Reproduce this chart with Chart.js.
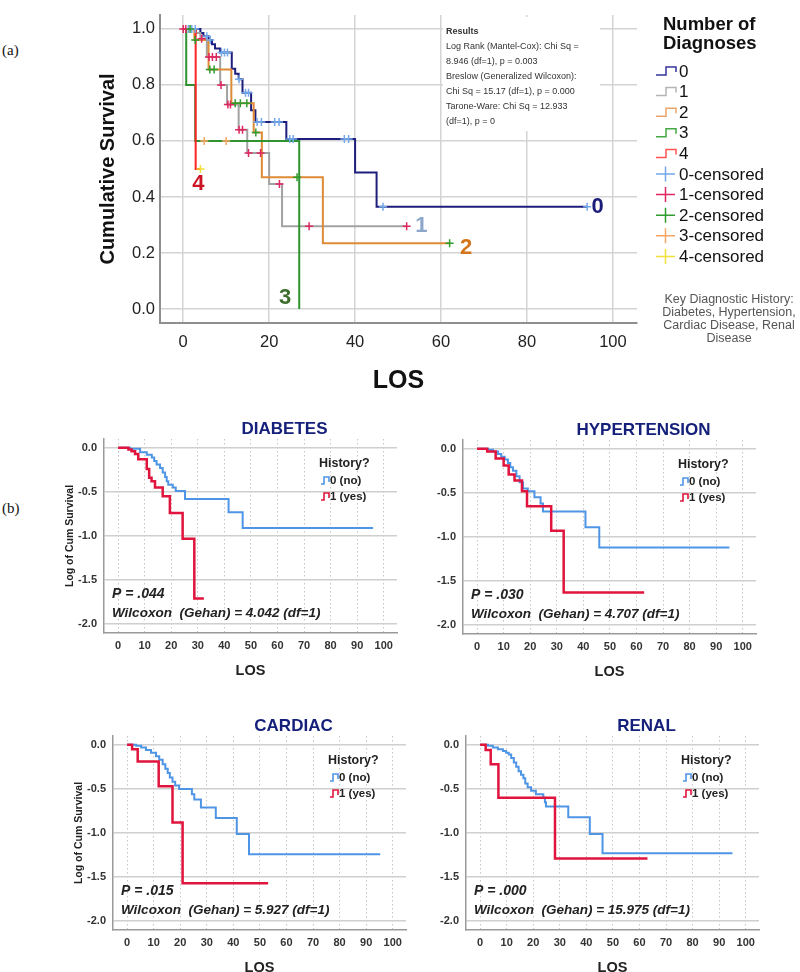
<!DOCTYPE html>
<html>
<head>
<meta charset="utf-8">
<script src="https://cdn.jsdelivr.net/npm/chart.js@4.4.1/dist/chart.umd.min.js"></script>
<style>
body { margin: 0; background: #fff; }
#page { position: relative; width: 800px; height: 972px; overflow: hidden; background: #fff; }
canvas { position: absolute; }
.tag { position: absolute; font-family: "Liberation Serif", serif; font-size: 15px; color: #111; }
</style>
</head>
<body>
<div id="page">
  <div class="tag" style="left:2px;top:42px">(a)</div>
  <div class="tag" style="left:2px;top:500px">(b)</div>
  <canvas id="km" width="800" height="400" style="left:0;top:0"></canvas>
  <canvas id="diab" width="380" height="285" style="left:30px;top:400px"></canvas>
  <canvas id="hyper" width="380" height="285" style="left:389px;top:401px"></canvas>
  <canvas id="card" width="380" height="285" style="left:39px;top:697px"></canvas>
  <canvas id="renal" width="380" height="285" style="left:392px;top:697px"></canvas>
</div>
<script>
// ---- top chart: Kaplan-Meier by number of diagnoses ----
const groupNames = ['0', '1', '2', '3', '4'];
const xTicksTop = [0, 20, 40, 60, 80, 100];
const yTicksTop = [0, 0.2, 0.4, 0.6, 0.8, 1.0];

const g0Time = [0, 4, 4.7, 5.9, 6.7, 7.4, 8.6, 11.3, 12.1, 12.9, 13.8, 15.8, 16.8, 24, 40, 45, 94];
const g0Surv = [1, 0.985, 0.974, 0.96, 0.945, 0.93, 0.916, 0.858, 0.84, 0.82, 0.772, 0.71, 0.668, 0.607, 0.487, 0.365, 0.365];
const g1Time = [0, 3, 4, 5.5, 8.6, 10.2, 12.9, 14.9, 20, 23, 52];
const g1Surv = [1, 0.985, 0.965, 0.9, 0.8, 0.73, 0.64, 0.557, 0.446, 0.295, 0.295];
const g2Time = [0, 2.6, 5.9, 11.2, 16.4, 18.3, 32.5, 62];
const g2Surv = [1, 0.96, 0.855, 0.735, 0.63, 0.47, 0.235, 0.235];
const g3Time = [0, 0.7, 2.8, 27];
const g3Surv = [1, 0.8, 0.6, 0];
const g4Time = [0, 2.9, 4];
const g4Surv = [1, 0.5, 0.5];

// censored cases
const c0Time = [1.2, 2, 2.8, 5.5, 6.3, 8.9, 9.6, 10.3, 13, 14.5, 15.2, 17.2, 18.2, 21.3, 22.3, 24.8, 25.6, 37.5, 38.5, 46.5, 94];
const c0Surv = [1, 1, 1, 0.974, 0.96, 0.916, 0.916, 0.916, 0.82, 0.772, 0.772, 0.668, 0.668, 0.668, 0.668, 0.607, 0.607, 0.607, 0.607, 0.365, 0.365];
const c1Time = [0, 0.6, 4.3, 6, 6.8, 7.7, 8.8, 10.4, 11, 13, 13.8, 15.2, 18, 22.4, 29.3, 52];
const c1Surv = [1, 1, 0.965, 0.9, 0.9, 0.9, 0.8, 0.73, 0.73, 0.64, 0.64, 0.557, 0.557, 0.446, 0.295, 0.295];
const c2Time = [1.6, 2.8, 6.2, 7.2, 12.1, 13.3, 14.8, 16.9, 26.5, 62];
const c2Surv = [1, 0.96, 0.855, 0.855, 0.735, 0.735, 0.735, 0.63, 0.47, 0.235];
const c3Time = [4.9, 10];
const c3Surv = [0.6, 0.6];
const c4Time = [4];
const c4Surv = [0.5];

const resultLines = [
  'Results',
  'Log Rank (Mantel-Cox): Chi Sq =',
  '8.946 (df=1), p = 0.003',
  'Breslow (Generalized Wilcoxon):',
  'Chi Sq = 15.17 (df=1), p = 0.000',
  'Tarone-Ware: Chi Sq = 12.933',
  '(df=1), p = 0'
];
const keyLines = ['Key Diagnostic History:', 'Diabetes, Hypertension,', 'Cardiac Disease, Renal', 'Disease'];

// ---- bottom panels: log cumulative survival, history yes/no ----
const xTicksPanel = [0, 10, 20, 30, 40, 50, 60, 70, 80, 90, 100];
const yTicksPanel = [0, -0.5, -1, -1.5, -2];
const historyNames = ['0 (no)', '1 (yes)'];

const diabNoTime = [0, 4.5, 8.3, 10.8, 12.7, 13.6, 14.5, 15.8, 16.8, 17.7, 18.3, 18.9, 20.6, 21.7, 25.2, 41.6, 46.9, 96];
const diabNoLog = [0, -0.01, -0.05, -0.08, -0.11, -0.15, -0.19, -0.23, -0.28, -0.33, -0.38, -0.42, -0.45, -0.49, -0.58, -0.73, -0.91, -0.91];
const diabYesTime = [0, 3.9, 5.1, 6.4, 7.6, 10.8, 11.7, 12.6, 13.9, 16.8, 19.5, 24.3, 28.7, 32.3];
const diabYesLog = [0, -0.02, -0.04, -0.07, -0.13, -0.24, -0.34, -0.38, -0.45, -0.55, -0.74, -1.03, -1.71, -1.71];

const hypNoTime = [0, 4.1, 6, 7.9, 9.1, 10.4, 11.6, 12.5, 13.5, 14.8, 16, 17.3, 19.1, 21.6, 23.9, 24.8, 40.8, 46, 95];
const hypNoLog = [0, -0.01, -0.03, -0.06, -0.09, -0.12, -0.16, -0.21, -0.25, -0.31, -0.38, -0.45, -0.48, -0.55, -0.62, -0.71, -0.89, -1.12, -1.12];
const hypYesTime = [0, 3.8, 7, 10, 11.9, 14.1, 16.9, 18.8, 27.9, 32.6, 62.9];
const hypYesLog = [0, -0.03, -0.11, -0.19, -0.29, -0.36, -0.48, -0.65, -0.93, -1.63, -1.63];

const cardNoTime = [0, 3.4, 5.3, 7.1, 9, 10.9, 12.1, 13.4, 14.4, 15.3, 16.1, 17.1, 18.1, 19.6, 24.4, 25.3, 27.8, 33.4, 41.3, 45.9, 95.3];
const cardNoLog = [0, -0.01, -0.03, -0.06, -0.09, -0.13, -0.17, -0.22, -0.27, -0.32, -0.37, -0.42, -0.46, -0.5, -0.56, -0.62, -0.71, -0.83, -1.01, -1.24, -1.24];
const cardYesTime = [0, 1.9, 4, 11.9, 17.1, 20.9, 53.1];
const cardYesLog = [0, -0.05, -0.19, -0.47, -0.88, -1.57, -1.57];

const renNoTime = [0, 3, 4.8, 6.7, 8.6, 9.8, 10.8, 11.7, 12.7, 13.6, 14.5, 15.4, 16.3, 17, 17.9, 19.2, 21, 23.8, 24.4, 24.8, 33.2, 41.3, 46.1, 95];
const renNoLog = [0, -0.01, -0.03, -0.05, -0.07, -0.09, -0.11, -0.15, -0.2, -0.25, -0.3, -0.34, -0.38, -0.44, -0.48, -0.52, -0.56, -0.6, -0.65, -0.7, -0.82, -1.01, -1.23, -1.23];
const renYesTime = [0, 2.1, 4, 6.9, 28.2, 63];
const renYesLog = [0, -0.06, -0.22, -0.6, -1.29, -1.29];

Chart.defaults.font.family = '"Liberation Sans", Arial, sans-serif';
const FONT = '"Liberation Sans", Arial, sans-serif';

function pts(t, s){
    return t.map((v, i) => ({x: v, y: s[i]}));
}

// styles for the top chart
const lineColors = ['#1e1e7e', '#a2a2a2', '#df8a35', '#2f932f', '#ff2424'];
const censColors = ['#74a8ea', '#e02860', '#2f9c2f', '#f5a664', '#f0e038'];
const legendLineColors = ['#34349a', '#b4b4b4', '#eaa468', '#44a844', '#ff5454'];
const labelColors = ['#1c1c7a', '#8ca7c9', '#d4751c', '#3d6e2e', '#cc1424'];
const labelPos = [[95, 0.363], [54, 0.296], [64.4, 0.218], [22.3, 0.038], [2.1, 0.445]];

const groupTimes = [g0Time, g1Time, g2Time, g3Time, g4Time];
const groupSurv = [g0Surv, g1Surv, g2Surv, g3Surv, g4Surv];
const censTimes = [c0Time, c1Time, c2Time, c3Time, c4Time];
const censSurv = [c0Surv, c1Surv, c2Surv, c3Surv, c4Surv];

let kmSets = [];
for(let i = 0; i < groupNames.length; i++){
    kmSets.push({
        label: groupNames[i],
        data: pts(groupTimes[i], groupSurv[i]),
        borderColor: lineColors[i],
        borderWidth: 2,
        stepped: true,
        pointRadius: 0,
        fill: false,
        order: 10 - i
    });
}
for(let i = 0; i < groupNames.length; i++){
    kmSets.push({
        label: groupNames[i] + '-censored',
        data: pts(censTimes[i], censSurv[i]),
        showLine: false,
        pointStyle: 'cross',
        pointRadius: 4,
        pointBorderWidth: 1.5,
        pointBorderColor: censColors[i],
        borderColor: censColors[i],
        order: 5 - i
    });
}

const kmDecor = {
    id: 'kmDecor',
    beforeDatasetsDraw(chart){
        const ctx = chart.ctx;
        ctx.save();
        ctx.fillStyle = '#fff';
        ctx.fillRect(443, 17, 157, 114);
        ctx.fillStyle = '#333';
        ctx.textBaseline = 'middle';
        ctx.textAlign = 'left';
        for(let i = 0; i < resultLines.length; i++){
            ctx.font = (i == 0 ? 'bold ' : '') + '9px ' + FONT;
            ctx.fillText(resultLines[i], 446, 32 + i * 15);
        }
        ctx.restore();
    },
    afterDatasetsDraw(chart){
        const ctx = chart.ctx;
        const xs = chart.scales.x, ys = chart.scales.y;
        ctx.save();
        ctx.textBaseline = 'middle';
        ctx.textAlign = 'left';
        // curve labels
        ctx.font = 'bold 22px ' + FONT;
        for(let i = 0; i < groupNames.length; i++){
            ctx.fillStyle = labelColors[i];
            ctx.fillText(groupNames[i], xs.getPixelForValue(labelPos[i][0]), ys.getPixelForValue(labelPos[i][1]));
        }
        // legend
        ctx.fillStyle = '#111';
        ctx.font = 'bold 18.5px ' + FONT;
        ctx.fillText('Number of', 663, 25);
        ctx.fillText('Diagnoses', 663, 44);
        ctx.font = '17px ' + FONT;
        ctx.lineWidth = 1.5;
        let names = groupNames.concat(groupNames.map(g => g + '-censored'));
        for(let i = 0; i < names.length; i++){
            let y = 71 + i * 20.6;
            ctx.beginPath();
            if(i < 5){
                ctx.strokeStyle = legendLineColors[i];
                ctx.moveTo(656, y + 4);
                ctx.lineTo(666, y + 4);
                ctx.lineTo(666, y - 4);
                ctx.lineTo(676, y - 4);
                ctx.lineTo(676, y + 1);
            }
            else{
                ctx.strokeStyle = censColors[i - 5];
                ctx.moveTo(656, y);
                ctx.lineTo(675, y);
                ctx.moveTo(665.5, y - 7.5);
                ctx.lineTo(665.5, y + 7.5);
            }
            ctx.stroke();
            ctx.fillStyle = '#111';
            ctx.fillText(names[i], 679, y + 1);
        }
        // key note
        ctx.fillStyle = '#555';
        ctx.textAlign = 'center';
        ctx.font = '12.5px ' + FONT;
        for(let i = 0; i < keyLines.length; i++){
            ctx.fillText(keyLines[i], 729, 300 + i * 13);
        }
        ctx.restore();
    }
};

new Chart(document.getElementById('km').getContext('2d'), {
    type: 'line',
    data: { datasets: kmSets },
    options: {
        responsive: false,
        animation: false,
        layout: { padding: { left: 92, top: 4, right: 163, bottom: 0 } },
        plugins: { legend: { display: false }, tooltip: { enabled: false } },
        scales: {
            x: {
                type: 'linear', min: -5.4, max: 105.6,
                afterBuildTicks: s => { s.ticks = xTicksTop.map(v => ({value: v})); },
                afterFit: s => { s.height = 77; },
                grid: { color: '#d4d4d4', lineWidth: 1.5, drawTicks: false },
                border: { color: '#8f8f8f', width: 2 },
                ticks: { font: { size: 16.5 }, color: '#222', padding: 10, maxRotation: 0, autoSkip: false },
                title: { display: true, text: 'LOS', font: { size: 25, weight: 'bold' }, color: '#111', padding: { top: 0, bottom: 4 } }
            },
            y: {
                type: 'linear', min: -0.05, max: 1.05,
                afterBuildTicks: s => { s.ticks = yTicksTop.map(v => ({value: v})); },
                afterFit: s => { s.width = 68; },
                grid: { color: '#d4d4d4', lineWidth: 1.5, drawTicks: false },
                border: { color: '#8f8f8f', width: 2 },
                ticks: { font: { size: 16.5 }, color: '#222', padding: 5, callback: v => Number(v).toFixed(1) },
                title: { display: true, text: 'Cumulative Survival', font: { size: 20, weight: 'bold' }, color: '#111', padding: { top: 4, bottom: 0 } }
            }
        }
    },
    plugins: [kmDecor]
});

// ---- panels ----
const noColor = '#4f95e6';
const yesColor = '#e0143c';

const panelDecor = {
    id: 'panelDecor',
    afterDatasetsDraw(chart, args, opts){
        const ctx = chart.ctx;
        const a = chart.chartArea;
        ctx.save();
        ctx.textBaseline = 'middle';
        ctx.textAlign = 'center';
        ctx.fillStyle = '#15207a';
        ctx.font = 'bold 17px ' + FONT;
        ctx.fillText(opts.title, (a.left + a.right) / 2 + 34, a.top - 10);

        ctx.textAlign = 'left';
        ctx.fillStyle = '#222';
        ctx.font = 'bold 12.5px ' + FONT;
        ctx.fillText('History?', a.left + 215, a.top + 25);
        ctx.font = 'bold 11.5px ' + FONT;
        const cols = [noColor, yesColor];
        for(let i = 0; i < historyNames.length; i++){
            let y = a.top + 42 + i * 16;
            let x = a.left + 217;
            ctx.strokeStyle = cols[i];
            ctx.lineWidth = 1.6;
            ctx.beginPath();
            ctx.moveTo(x, y + 3);
            ctx.lineTo(x + 3, y + 3);
            ctx.lineTo(x + 3, y - 4);
            ctx.lineTo(x + 8, y - 4);
            ctx.lineTo(x + 8, y + 1);
            ctx.stroke();
            ctx.fillText(historyNames[i], x + 9, y);
        }

        ctx.font = 'bold italic 14px ' + FONT;
        ctx.fillText(opts.p, a.left + 8, a.top + 155);
        ctx.font = 'bold italic 13.5px ' + FONT;
        ctx.fillText(opts.w, a.left + 8, a.top + 174);
        ctx.restore();
    }
};

function makePanel(id, title, noT, noY, yesT, yesY, pText, wText, showYTitle){
    let canvas = document.getElementById(id).getContext('2d');
    return new Chart(canvas, {
        type: 'line',
        data: {
            datasets: [
                { label: historyNames[1], data: pts(yesT, yesY), borderColor: yesColor, borderWidth: 2.5, stepped: true, pointRadius: 0, fill: false, order: 1 },
                { label: historyNames[0], data: pts(noT, noY), borderColor: noColor, borderWidth: 2, stepped: true, pointRadius: 0, fill: false, order: 2 }
            ]
        },
        options: {
            responsive: false,
            animation: false,
            layout: { padding: { left: 30, top: 39, right: 13, bottom: 2 } },
            plugins: {
                legend: { display: false },
                tooltip: { enabled: false },
                panelDecor: { title: title, p: pText, w: wText }
            },
            scales: {
                x: {
                    type: 'linear', min: -5.3, max: 105,
                    afterBuildTicks: s => { s.ticks = xTicksPanel.map(v => ({value: v})); },
                    afterFit: s => { s.height = 50; },
                    grid: { color: '#c6c6c6', lineWidth: 1, drawTicks: false },
                    border: { color: '#9a9a9a', width: 1.5, dash: [1.5, 2.5] },
                    ticks: { font: { size: 11, weight: 'bold' }, color: '#333', padding: 6, maxRotation: 0, autoSkip: false },
                    title: { display: true, text: 'LOS', font: { size: 14.5, weight: 'bold' }, color: '#222', padding: { top: 0, bottom: 3 } }
                },
                y: {
                    type: 'linear', min: -2.1, max: 0.1,
                    afterBuildTicks: s => { s.ticks = yTicksPanel.map(v => ({value: v})); },
                    afterFit: s => { s.width = 44; },
                    grid: { color: '#cfcfcf', lineWidth: 1.5, drawTicks: false },
                    border: { color: '#9a9a9a', width: 1.5 },
                    ticks: { font: { size: 11, weight: 'bold' }, color: '#333', padding: 7, callback: v => Number(v).toFixed(1) },
                    title: { display: showYTitle, text: 'Log of Cum Survival', font: { size: 10.5, weight: 'bold' }, color: '#222', padding: { top: 4, bottom: 0 } }
                }
            }
        },
        plugins: [panelDecor]
    });
}

makePanel('diab', 'DIABETES', diabNoTime, diabNoLog, diabYesTime, diabYesLog, 'P = .044', 'Wilcoxon  (Gehan) = 4.042 (df=1)', true);
makePanel('hyper', 'HYPERTENSION', hypNoTime, hypNoLog, hypYesTime, hypYesLog, 'P = .030', 'Wilcoxon  (Gehan) = 4.707 (df=1)', false);
makePanel('card', 'CARDIAC', cardNoTime, cardNoLog, cardYesTime, cardYesLog, 'P = .015', 'Wilcoxon  (Gehan) = 5.927 (df=1)', true);
makePanel('renal', 'RENAL', renNoTime, renNoLog, renYesTime, renYesLog, 'P = .000', 'Wilcoxon  (Gehan) = 15.975 (df=1)', false);
</script>
</body>
</html>
